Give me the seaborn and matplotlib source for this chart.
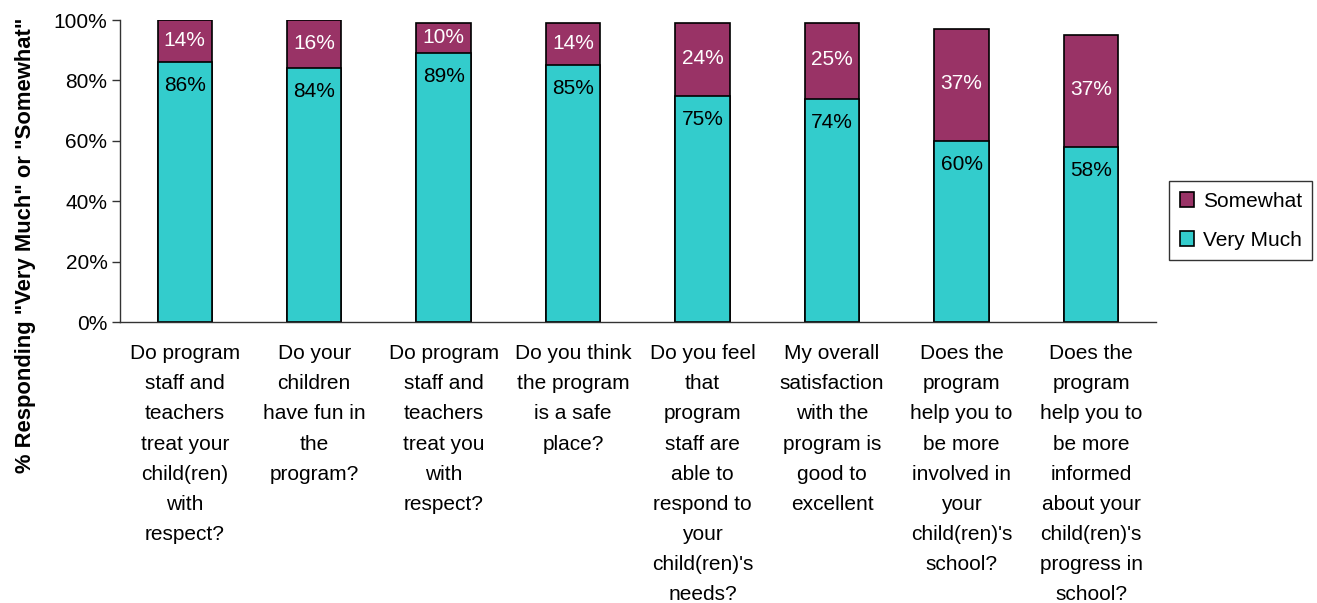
import matplotlib
matplotlib.use("Agg")
import matplotlib.pyplot as plt
import seaborn as sns
import pandas as pd
import numpy as np

questions = [
    "Do program\nstaff and\nteachers\ntreat your\nchild(ren)\nwith\nrespect?",
    "Do your\nchildren\nhave fun in\nthe\nprogram?",
    "Do program\nstaff and\nteachers\ntreat you\nwith\nrespect?",
    "Do you think\nthe program\nis a safe\nplace?",
    "Do you feel\nthat\nprogram\nstaff are\nable to\nrespond to\nyour\nchild(ren)'s\nneeds?",
    "My overall\nsatisfaction\nwith the\nprogram is\ngood to\nexcellent",
    "Does the\nprogram\nhelp you to\nbe more\ninvolved in\nyour\nchild(ren)'s\nschool?",
    "Does the\nprogram\nhelp you to\nbe more\ninformed\nabout your\nchild(ren)'s\nprogress in\nschool?",
]
very_much = [86, 84, 89, 85, 75, 74, 60, 58]
somewhat = [14, 16, 10, 14, 24, 25, 37, 37]
y_ticks = [0, 20, 40, 60, 80, 100]

teal = "#33CCCC"
maroon = "#993366"

sns.set_theme(style="white")
plt.rcParams["font.family"] = ["Liberation Sans", "DejaVu Sans"]
plt.rcParams["text.color"] = "black"
plt.rcParams["axes.labelcolor"] = "black"
plt.rcParams["xtick.color"] = "black"
plt.rcParams["ytick.color"] = "black"

df = pd.DataFrame({
    "question": questions,
    "Very Much": very_much,
    "Somewhat": somewhat,
})
df["total"] = df["Very Much"] + df["Somewhat"]

fig = plt.figure(figsize=(13.17, 6.03), dpi=100)
ax = fig.add_axes([0.0911, 0.466, 0.7865, 0.5008])

# Full stack height drawn in the "Somewhat" colour, then "Very Much" over it
sns.barplot(data=df, x="question", y="total", color=maroon, saturation=1,
            width=0.42, edgecolor="black", linewidth=1.2, ax=ax, label="Somewhat")
sns.barplot(data=df, x="question", y="Very Much", color=teal, saturation=1,
            width=0.42, edgecolor="black", linewidth=1.2, ax=ax, label="Very Much")
if ax.get_legend() is not None:
    ax.get_legend().remove()

fs = 15
for i, (vm, sw) in enumerate(zip(very_much, somewhat)):
    ax.annotate(f"{sw}%", xy=(i, vm + sw / 2.0), xytext=(0, 1), textcoords="offset pixels",
                ha="center", va="center", color="white", fontsize=fs)
    ax.annotate(f"{vm}%", xy=(i, vm), xytext=(0, -14), textcoords="offset pixels",
                ha="center", va="top", color="black", fontsize=fs)

ax.set_xlim(-0.5, len(questions) - 0.5)
ax.set_ylim(0, 100)
ax.set_yticks(y_ticks)
ax.set_yticklabels([f"{v}%" for v in y_ticks], fontsize=fs)
ax.set_xticks(range(len(questions)))
ax.set_xticklabels(questions, fontsize=fs, linespacing=1.74, va="top")
ax.set_xticks(np.arange(-0.5, len(questions), 1.0), minor=True)
ax.tick_params(axis="x", which="major", length=0, pad=16)
ax.tick_params(axis="x", which="minor", length=6, width=1, color="#333333", direction="out")
ax.tick_params(axis="y", which="major", length=6, width=1, color="#333333",
               direction="out", left=True, pad=3)
ax.set_xlabel("")
ax.set_ylabel('% Responding "Very Much" or "Somewhat"', fontsize=15.8,
              fontweight="bold")
ax.yaxis.set_label_coords(-0.081, 0.255)

for side in ["top", "right"]:
    ax.spines[side].set_visible(False)
for side in ["left", "bottom"]:
    ax.spines[side].set_color("#333333")
    ax.spines[side].set_linewidth(1)

handles, labels = ax.get_legend_handles_labels()
leg = fig.legend(handles, labels, loc="center left", bbox_to_anchor=(0.888, 0.634),
                 fontsize=fs, frameon=True, fancybox=False, edgecolor="black",
                 handlelength=0.7, handleheight=0.7, handletextpad=0.4,
                 borderpad=0.5, labelspacing=0.95, borderaxespad=0)
leg.get_frame().set_linewidth(1)

fig.savefig("out.png", dpi=100)
